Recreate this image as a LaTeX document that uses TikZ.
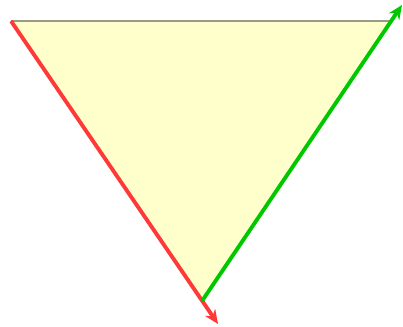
\documentclass[tikz,border=0pt]{standalone}
\usetikzlibrary{arrows.meta}

\definecolor{triyellow}{HTML}{FFFFCC}
\definecolor{vecred}{HTML}{FF3838}
\definecolor{vecgreen}{HTML}{00C800}
\definecolor{edgegray}{HTML}{999988}

\begin{document}
\begin{tikzpicture}[
    x=0.02cm, y=-0.02cm,
    vec/.style={line width=2.2pt, -{Stealth[length=8pt, width=7pt]}},
    edge/.style={draw=edgegray, line width=0.6pt}
]
    \useasboundingbox (0,0) rectangle (403,327);

    % triangle corners
    \coordinate (tl) at (11,21);
    \coordinate (tr) at (390,21);
    \coordinate (bot) at (202,301);
    % arrow ends
    \coordinate (redtip) at (218,324);
    \coordinate (greentip) at (402,5);

    \fill[triyellow] (tl) -- (tr) -- (bot) -- cycle;
    \draw[edge] (tl) -- (tr);

    \draw[vec, vecred] (tl) -- (redtip);
    \draw[vec, vecgreen] (bot) -- (greentip);

\end{tikzpicture}
\end{document}
